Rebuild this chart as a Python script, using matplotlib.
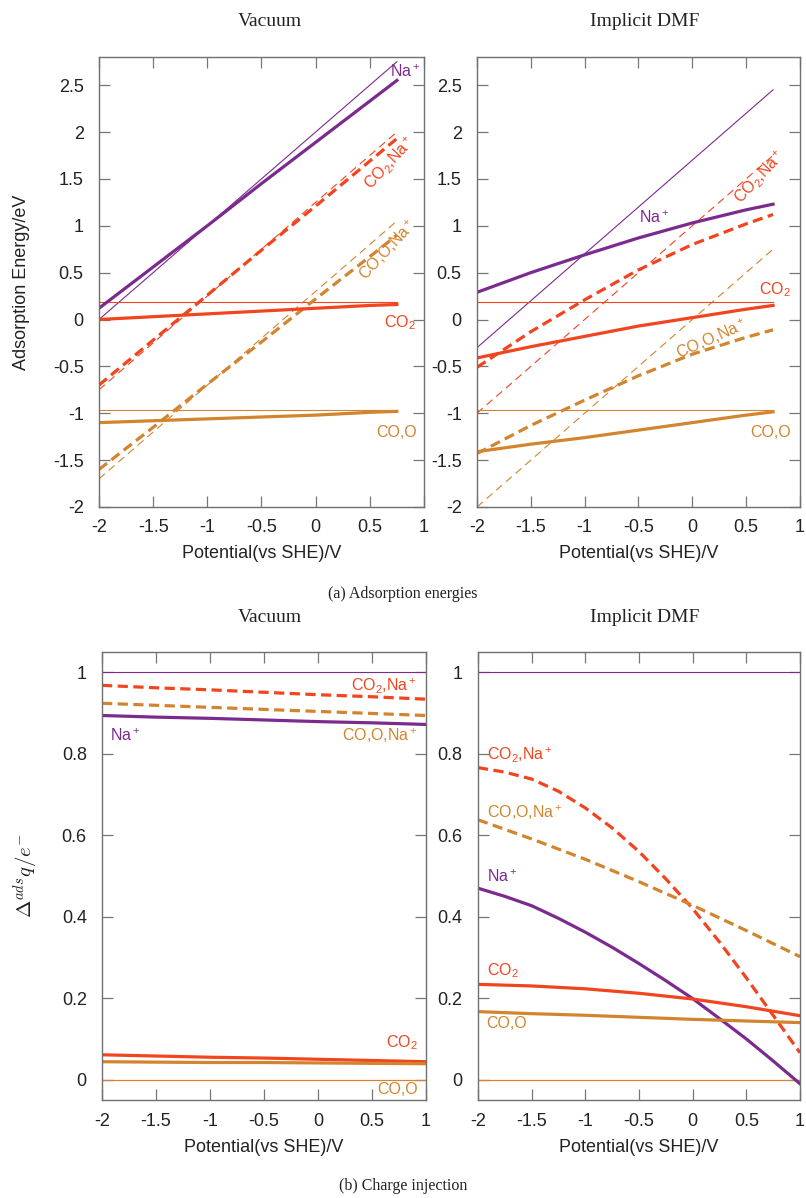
import numpy as np
import matplotlib
matplotlib.use("Agg")
import matplotlib.pyplot as plt
from matplotlib.ticker import FixedLocator, FormatStrFormatter

plt.rcParams['font.family'] = ['Liberation Sans', 'DejaVu Sans']
plt.rcParams['mathtext.fontset'] = 'custom'
plt.rcParams['mathtext.rm'] = 'Liberation Sans'
plt.rcParams['mathtext.it'] = 'Liberation Sans:italic'
plt.rcParams['mathtext.bf'] = 'Liberation Sans:bold'
plt.rcParams['axes.unicode_minus'] = False

PURPLE = '#7b2a8e'
RED = '#f2441f'
ORANGE = '#d2842e'

# ---- (a) adsorption energies, potential grid ----
u_top = [-2, -1.5, -1, -0.5, 0, 0.5, 0.75]
u_ref = [-2, 0.75]

# vacuum
vac_na = [0.12, 0.56, 1.00, 1.45, 1.89, 2.33, 2.55]
vac_co2na = [-0.70, -0.22, 0.26, 0.74, 1.21, 1.69, 1.93]
vac_coona = [-1.60, -1.15, -0.69, -0.24, 0.22, 0.67, 0.90]
vac_co2 = [0.00, 0.03, 0.06, 0.09, 0.12, 0.15, 0.16]
vac_coo = [-1.10, -1.08, -1.06, -1.04, -1.02, -0.99, -0.98]
vac_na_ref = [0.0, 2.75]
vac_co2na_ref = [-0.75, 2.0]
vac_coona_ref = [-1.70, 1.05]

# implicit DMF
dmf_na = [0.29, 0.50, 0.69, 0.87, 1.03, 1.17, 1.23]
dmf_co2na = [-0.51, -0.13, 0.21, 0.53, 0.80, 1.02, 1.12]
dmf_coona = [-1.43, -1.13, -0.86, -0.60, -0.37, -0.19, -0.11]
dmf_co2 = [-0.41, -0.29, -0.18, -0.07, 0.02, 0.11, 0.15]
dmf_coo = [-1.41, -1.33, -1.26, -1.18, -1.10, -1.02, -0.985]
dmf_na_ref = [-0.30, 2.45]
dmf_co2na_ref = [-1.0, 1.75]
dmf_coona_ref = [-2.0, 0.75]

co2_ref = [0.19, 0.19]
coo_ref = [-0.96, -0.96]

# ---- (b) charge injection ----
u_bot = [-2, -1.5, -1, -0.5, 0, 0.5, 1]
u_fine = [-2, -1.75, -1.5, -1.25, -1, -0.75, -0.5, -0.25, 0, 0.25, 0.5, 0.75, 1]
u_full = [-2, 1]

qv_co2na = [0.968, 0.962, 0.957, 0.951, 0.945, 0.940, 0.934]
qv_coona = [0.924, 0.919, 0.914, 0.909, 0.904, 0.899, 0.894]
qv_na = [0.894, 0.890, 0.887, 0.883, 0.879, 0.876, 0.872]
qv_co2 = [0.061, 0.058, 0.055, 0.053, 0.050, 0.047, 0.044]
qv_coo = [0.044, 0.043, 0.042, 0.042, 0.041, 0.040, 0.039]

qd_co2na = [0.766, 0.755, 0.738, 0.708, 0.667, 0.618, 0.560, 0.493, 0.420,
            0.338, 0.250, 0.158, 0.066]
qd_na = [0.470, 0.450, 0.427, 0.396, 0.362, 0.325, 0.285, 0.243, 0.199,
         0.150, 0.100, 0.046, -0.010]
qd_coona = [0.638, 0.591, 0.541, 0.486, 0.428, 0.366, 0.302]
qd_co2 = [0.234, 0.230, 0.223, 0.212, 0.198, 0.179, 0.157]
qd_coo = [0.167, 0.162, 0.158, 0.153, 0.148, 0.144, 0.140]

q_one = [1.0, 1.0]
q_zero = [0.0, 0.0]

THICK = 2.3
THIN = 0.8
DASH_THICK = (3.2, 1.7)
DASH_THIN = (7, 4.5)


def style(ax, yticks, ylim):
    ax.set_xlim(-2, 1)
    ax.set_ylim(*ylim)
    ax.xaxis.set_major_locator(FixedLocator([-2, -1.5, -1, -0.5, 0, 0.5, 1]))
    ax.yaxis.set_major_locator(FixedLocator(yticks))
    ax.xaxis.set_major_formatter(FormatStrFormatter('%g'))
    ax.yaxis.set_major_formatter(FormatStrFormatter('%g'))
    ax.tick_params(direction='in', top=True, right=True, length=8, width=0.9,
                   color='#777777', labelsize=13, labelcolor='#222222', pad=9)
    ax.tick_params(axis='y', pad=11)
    for s in ax.spines.values():
        s.set_color('#707070')
        s.set_linewidth(1.0)
    ax.set_xlabel('Potential(vs SHE)/V', fontsize=13, color='#222222')


fig = plt.figure(figsize=(8.06, 11.98), dpi=100)
ax1 = fig.add_axes([0.1228, 0.5768, 0.4032, 0.3756])
ax2 = fig.add_axes([0.5918, 0.5768, 0.4007, 0.3756])
ax3 = fig.add_axes([0.1266, 0.0818, 0.4020, 0.3740])
ax4 = fig.add_axes([0.5930, 0.0818, 0.3995, 0.3740])

top_yticks = [-2, -1.5, -1, -0.5, 0, 0.5, 1, 1.5, 2, 2.5]
bot_yticks = [0, 0.2, 0.4, 0.6, 0.8, 1]

# vacuum adsorption
ax1.plot(u_ref, vac_na_ref, color=PURPLE, lw=THIN)
ax1.plot(u_ref, vac_co2na_ref, color=RED, lw=THIN, dashes=DASH_THIN)
ax1.plot(u_ref, vac_coona_ref, color=ORANGE, lw=THIN, dashes=DASH_THIN)
ax1.plot(u_ref, co2_ref, color=RED, lw=THIN)
ax1.plot(u_ref, coo_ref, color=ORANGE, lw=THIN)
ax1.plot(u_top, vac_na, color=PURPLE, lw=THICK)
ax1.plot(u_top, vac_co2na, color=RED, lw=THICK, dashes=DASH_THICK)
ax1.plot(u_top, vac_coona, color=ORANGE, lw=THICK, dashes=DASH_THICK)
ax1.plot(u_top, vac_co2, color=RED, lw=THICK)
ax1.plot(u_top, vac_coo, color=ORANGE, lw=THICK)
ax1.text(0.83, 2.64, 'Na$^+$', color=PURPLE, fontsize=11.5, ha='center', va='center')
ax1.text(0.69, 1.67, 'CO$_2$,Na$^+$', color=RED, fontsize=11.5, ha='center',
         va='center', rotation=47, rotation_mode='anchor')
ax1.text(0.67, 0.74, 'CO,O,Na$^+$', color=ORANGE, fontsize=11.5, ha='center',
         va='center', rotation=47, rotation_mode='anchor')
ax1.text(0.78, -0.03, 'CO$_2$', color=RED, fontsize=11.5, ha='center', va='center')
ax1.text(0.75, -1.21, 'CO,O', color=ORANGE, fontsize=11.5, ha='center', va='center')

# DMF adsorption
ax2.plot(u_ref, dmf_na_ref, color=PURPLE, lw=THIN)
ax2.plot(u_ref, dmf_co2na_ref, color=RED, lw=THIN, dashes=DASH_THIN)
ax2.plot(u_ref, dmf_coona_ref, color=ORANGE, lw=THIN, dashes=DASH_THIN)
ax2.plot(u_ref, co2_ref, color=RED, lw=THIN)
ax2.plot(u_ref, coo_ref, color=ORANGE, lw=THIN)
ax2.plot(u_top, dmf_na, color=PURPLE, lw=THICK)
ax2.plot(u_top, dmf_co2na, color=RED, lw=THICK, dashes=DASH_THICK)
ax2.plot(u_top, dmf_coona, color=ORANGE, lw=THICK, dashes=DASH_THICK)
ax2.plot(u_top, dmf_co2, color=RED, lw=THICK)
ax2.plot(u_top, dmf_coo, color=ORANGE, lw=THICK)
ax2.text(-0.35, 1.09, 'Na$^+$', color=PURPLE, fontsize=11.5, ha='center', va='center')
ax2.text(0.63, 1.52, 'CO$_2$,Na$^+$', color=RED, fontsize=11.5, ha='center',
         va='center', rotation=47, rotation_mode='anchor')
ax2.text(0.18, -0.21, 'CO,O,Na$^+$', color=ORANGE, fontsize=11.5, ha='center',
         va='center', rotation=24, rotation_mode='anchor')
ax2.text(0.77, 0.32, 'CO$_2$', color=RED, fontsize=11.5, ha='center', va='center')
ax2.text(0.73, -1.21, 'CO,O', color=ORANGE, fontsize=11.5, ha='center', va='center')

# vacuum charge
ax3.plot(u_full, q_one, color=PURPLE, lw=THIN)
ax3.plot(u_full, q_zero, color=RED, lw=THIN)
ax3.plot(u_full, q_zero, color=ORANGE, lw=THIN)
ax3.plot(u_bot, qv_co2na, color=RED, lw=THICK, dashes=DASH_THICK)
ax3.plot(u_bot, qv_coona, color=ORANGE, lw=THICK, dashes=DASH_THICK)
ax3.plot(u_bot, qv_na, color=PURPLE, lw=THICK)
ax3.plot(u_bot, qv_co2, color=RED, lw=THICK)
ax3.plot(u_bot, qv_coo, color=ORANGE, lw=THICK)
ax3.text(0.91, 0.966, 'CO$_2$,Na$^+$', color=RED, fontsize=11.5, ha='right', va='center')
ax3.text(-1.79, 0.845, 'Na$^+$', color=PURPLE, fontsize=11.5, ha='center', va='center')
ax3.text(0.92, 0.845, 'CO,O,Na$^+$', color=ORANGE, fontsize=11.5, ha='right', va='center')
ax3.text(0.78, 0.09, 'CO$_2$', color=RED, fontsize=11.5, ha='center', va='center')
ax3.text(0.74, -0.025, 'CO,O', color=ORANGE, fontsize=11.5, ha='center', va='center')

# DMF charge
ax4.plot(u_full, q_one, color=PURPLE, lw=THIN)
ax4.plot(u_full, q_zero, color=RED, lw=THIN)
ax4.plot(u_full, q_zero, color=ORANGE, lw=THIN)
ax4.plot(u_fine, qd_co2na, color=RED, lw=THICK, dashes=DASH_THICK)
ax4.plot(u_bot, qd_coona, color=ORANGE, lw=THICK, dashes=DASH_THICK)
ax4.plot(u_fine, qd_na, color=PURPLE, lw=THICK)
ax4.plot(u_bot, qd_co2, color=RED, lw=THICK)
ax4.plot(u_bot, qd_coo, color=ORANGE, lw=THICK)
ax4.text(-1.92, 0.795, 'CO$_2$,Na$^+$', color=RED, fontsize=11.5, ha='left', va='center')
ax4.text(-1.92, 0.655, 'CO,O,Na$^+$', color=ORANGE, fontsize=11.5, ha='left', va='center')
ax4.text(-1.92, 0.497, 'Na$^+$', color=PURPLE, fontsize=11.5, ha='left', va='center')
ax4.text(-1.92, 0.267, 'CO$_2$', color=RED, fontsize=11.5, ha='left', va='center')
ax4.text(-1.92, 0.137, 'CO,O', color=ORANGE, fontsize=11.5, ha='left', va='center')

for ax in (ax1, ax2):
    style(ax, top_yticks, (-2, 2.8))
    ax.xaxis.set_label_coords(0.5, -0.084)
for ax in (ax3, ax4):
    style(ax, bot_yticks, (-0.05, 1.05))
    ax.xaxis.set_label_coords(0.5, -0.087)

fig.text(22 / 806, 1 - 282 / 1198, 'Adsorption Energy/eV', rotation=90,
         ha='center', va='center', fontsize=13, color='#222222')
fig.text(26 / 806, 1 - 876 / 1198, r'$\Delta^{ads}q/e^{-}$', rotation=90,
         ha='center', va='center', fontsize=15, color='#222222', math_fontfamily='cm')

serif = ['Liberation Serif', 'DejaVu Serif']
for y in (22, 617):
    fig.text(270 / 806, 1 - y / 1198, 'Vacuum', ha='center', va='center',
             fontsize=14, family=serif, color='#222222')
    fig.text(645 / 806, 1 - y / 1198, 'Implicit DMF', ha='center', va='center',
             fontsize=14, family=serif, color='#222222')
fig.text(403 / 806, 1 - 594 / 1198, '(a) Adsorption energies', ha='center',
         va='center', fontsize=11.5, family=serif, color='#222222')
fig.text(403 / 806, 1 - 1186 / 1198, '(b) Charge injection', ha='center',
         va='center', fontsize=11.5, family=serif, color='#222222')

fig.savefig('out.png', dpi=100)
